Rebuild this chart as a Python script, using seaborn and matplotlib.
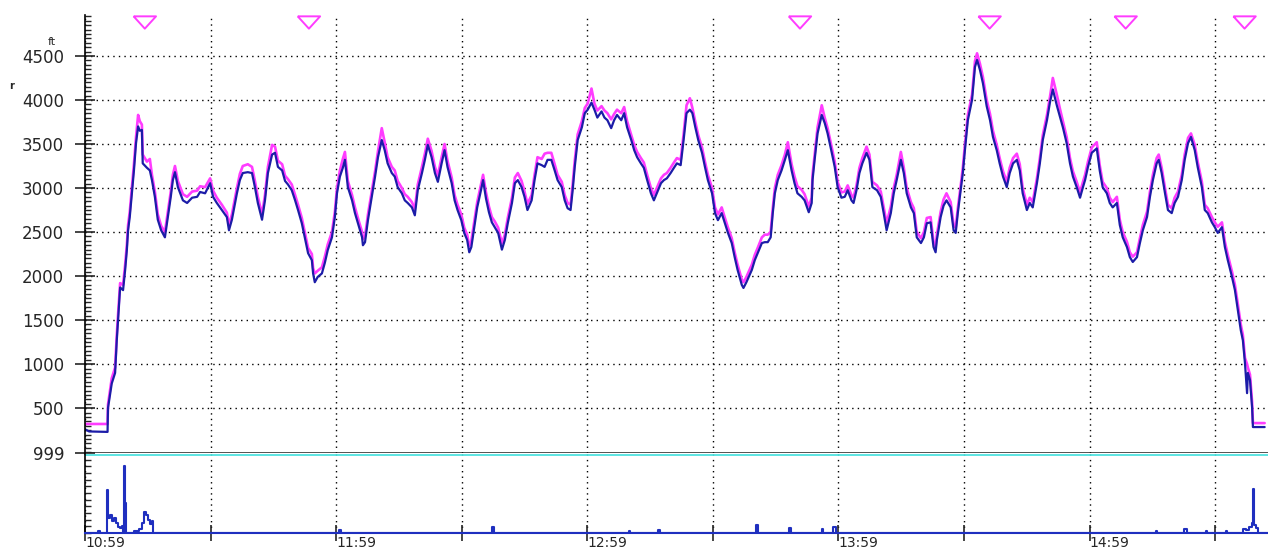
import matplotlib
matplotlib.use('Agg')
import matplotlib.pyplot as plt
from matplotlib.ticker import MultipleLocator
import pandas as pd
import seaborn as sns

# time in minutes after 10:59
minutes = [
    0.0, 1.0, 5.4, 5.5, 6.4, 7.2, 7.6, 7.9, 8.4, 9.1,
    9.6, 10.0, 10.3, 10.7, 11.2, 11.7, 12.2, 12.7, 13.1, 13.6,
    13.8, 14.8, 15.5, 16.0, 16.7, 17.4, 18.2, 19.1, 19.8, 20.5,
    21.0, 21.5, 22.2, 23.4, 24.4, 25.6, 26.8, 27.5, 28.7, 29.9,
    30.6, 31.5, 32.7, 33.9, 34.4, 35.1, 36.3, 37.0, 37.7, 38.9,
    39.9, 40.6, 41.3, 42.3, 43.0, 43.7, 44.7, 45.4, 46.1, 47.1,
    47.8, 48.5, 49.4, 50.2, 50.9, 51.8, 52.5, 53.3, 54.2, 54.5,
    54.9, 55.6, 56.6, 57.3, 58.0, 59.0, 59.7, 60.2, 60.9, 61.6,
    62.1, 62.8, 63.8, 64.5, 65.2, 66.2, 66.4, 66.9, 67.6, 68.5,
    69.3, 70.0, 70.9, 71.6, 72.3, 73.3, 74.0, 74.7, 75.7, 76.4,
    77.1, 78.1, 78.8, 79.5, 80.5, 81.2, 81.9, 82.8, 83.6, 84.3,
    85.2, 85.9, 86.6, 87.6, 88.3, 89.0, 89.9, 90.6, 91.3, 91.8,
    92.3, 93.0, 93.7, 94.6, 95.1, 95.8, 96.5, 97.2, 97.9, 98.7,
    99.6, 100.3, 101.0, 102.0, 102.7, 103.4, 104.3, 105.0, 105.7, 106.7,
    107.4, 108.1, 109.1, 109.8, 110.5, 111.4, 112.2, 112.9, 113.9, 114.6,
    115.3, 116.0, 116.5, 117.0, 117.7, 118.7, 119.4, 120.1, 121.0, 121.7,
    122.4, 123.4, 124.1, 124.8, 125.7, 126.4, 127.1, 128.1, 128.8, 129.5,
    130.5, 131.2, 131.9, 132.8, 133.5, 134.3, 135.2, 135.9, 136.6, 137.6,
    138.3, 139.0, 139.9, 140.7, 141.4, 142.3, 143.0, 143.7, 144.5, 145.1,
    145.8, 146.5, 147.4, 148.1, 148.8, 149.8, 150.5, 151.2, 152.1, 152.8,
    153.6, 154.5, 155.2, 155.9, 156.9, 157.3, 158.0, 159.3, 160.0, 160.7,
    161.7, 162.4, 163.1, 163.8, 164.3, 164.8, 165.5, 166.4, 167.2, 167.9,
    168.8, 169.5, 170.2, 171.2, 171.9, 172.9, 173.6, 173.8, 174.3, 175.0,
    176.0, 176.7, 177.4, 178.4, 179.1, 179.8, 180.7, 181.5, 182.2, 183.1,
    183.6, 184.3, 185.0, 185.7, 186.7, 187.4, 188.1, 189.2, 190.1, 190.8,
    191.5, 192.5, 193.2, 193.9, 194.9, 195.6, 196.3, 197.3, 198.0, 198.7,
    199.7, 200.4, 201.1, 202.0, 202.7, 203.2, 203.5, 204.4, 205.1, 205.8,
    206.8, 207.5, 208.0, 208.5, 209.2, 209.7, 210.2, 210.9, 211.9, 212.6,
    213.1, 213.8, 214.5, 215.4, 216.2, 216.9, 217.8, 218.5, 219.3, 220.2,
    220.9, 221.7, 222.6, 223.3, 224.0, 225.0, 225.7, 226.4, 227.4, 228.1,
    228.8, 229.8, 230.5, 231.2, 232.2, 232.9, 233.6, 234.5, 235.3, 236.0,
    236.9, 237.7, 238.4, 238.9, 239.6, 240.5, 241.7, 242.4, 243.1, 244.1,
    244.8, 245.5, 246.5, 247.2, 247.9, 248.9, 249.6, 250.3, 251.3, 252.0,
    252.7, 253.7, 254.4, 255.1, 256.0, 256.5, 257.2, 258.0, 258.7, 259.6,
    260.3, 261.1, 262.0, 262.7, 263.5, 264.2, 265.1, 265.8, 266.8, 267.5,
    268.2, 269.2, 269.9, 270.6, 271.6, 272.3, 273.0, 274.0, 274.7, 275.4,
    276.1, 276.6, 277.1, 277.6, 277.8, 278.3, 278.8, 279.0, 281.8,
]

# blue trace (ft)
baro_alt = [
    260, 235, 230, 500, 780, 900, 1270, 1500, 1870, 1840,
    2070, 2290, 2520, 2670, 2940, 3200, 3510, 3700, 3650, 3660,
    3280, 3230, 3200, 3090, 2900, 2640, 2520, 2440, 2670, 2900,
    3090, 3180, 3010, 2860, 2830, 2890, 2900, 2955, 2940, 3055,
    2900, 2830, 2750, 2670, 2520, 2640, 2940, 3090, 3170, 3180,
    3170, 3010, 2830, 2640, 2860, 3170, 3380, 3400, 3240, 3200,
    3080, 3040, 2975, 2860, 2750, 2600, 2440, 2260, 2180, 2030,
    1930, 1990, 2030, 2150, 2295, 2440, 2670, 2940, 3130, 3230,
    3320, 3010, 2860, 2715, 2600, 2440, 2350, 2385, 2635, 2900,
    3130, 3350, 3545, 3430, 3280, 3170, 3130, 3010, 2940, 2860,
    2830, 2780, 2690, 2975, 3170, 3320, 3490, 3350, 3170, 3070,
    3280, 3430, 3240, 3055, 2860, 2750, 2635, 2490, 2410, 2270,
    2330, 2555, 2780, 2975, 3090, 2880, 2725, 2610, 2555, 2490,
    2300, 2410, 2600, 2830, 3055, 3090, 3010, 2900, 2750, 2860,
    3090, 3280, 3260, 3240, 3320, 3320, 3200, 3090, 3010, 2860,
    2770, 2750, 2975, 3240, 3545, 3690, 3850, 3890, 3970, 3890,
    3800, 3870, 3800, 3770, 3680, 3770, 3830, 3770, 3850, 3690,
    3545, 3430, 3350, 3280, 3230, 3090, 2940, 2860, 2940, 3055,
    3090, 3110, 3170, 3230, 3280, 3260, 3545, 3850, 3890, 3850,
    3690, 3545, 3400, 3240, 3090, 2940, 2715, 2635, 2715, 2610,
    2490, 2375, 2215, 2070, 1900, 1865, 1930, 2070, 2180, 2260,
    2375, 2385, 2385, 2440, 2715, 2940, 3090, 3200, 3320, 3430,
    3200, 3055, 2940, 2900, 2860, 2725, 2830, 3090, 3320, 3620,
    3830, 3740, 3620, 3400, 3240, 3010, 2890, 2900, 2975, 2860,
    2830, 2975, 3170, 3280, 3400, 3320, 3010, 2975, 2900, 2715,
    2520, 2715, 2940, 3090, 3320, 3170, 2940, 2780, 2715, 2440,
    2375, 2440, 2600, 2610, 2330, 2270, 2410, 2670, 2800, 2860,
    2780, 2520, 2490, 2715, 2975, 3170, 3430, 3770, 4000, 4375,
    4455, 4340, 4190, 3930, 3770, 3580, 3430, 3280, 3130, 3010,
    3170, 3280, 3320, 3200, 2940, 2750, 2830, 2780, 3055, 3280,
    3545, 3770, 3970, 4120, 3930, 3810, 3690, 3510, 3280, 3130,
    3010, 2890, 3010, 3090, 3240, 3400, 3450, 3200, 3010, 2940,
    2830, 2780, 2830, 2580, 2440, 2330, 2215, 2160, 2215, 2375,
    2520, 2670, 2900, 3090, 3280, 3320, 3170, 2940, 2750, 2715,
    2830, 2900, 3090, 3320, 3510, 3580, 3430, 3240, 3010, 2750,
    2715, 2610, 2555, 2490, 2555, 2330, 2180, 1990, 1840, 1615,
    1385, 1270, 1010, 670, 900, 820, 510, 285, 285,
]

# magenta trace (ft)
gps_alt = [
    320, 320, 320, 540, 840, 960, 1330, 1560, 1920, 1900,
    2130, 2350, 2580, 2730, 3000, 3270, 3580, 3830, 3760, 3720,
    3380, 3300, 3330, 3150, 2960, 2700, 2570, 2500, 2730, 2960,
    3150, 3250, 3080, 2930, 2900, 2960, 2970, 3020, 3010, 3110,
    2970, 2890, 2810, 2720, 2580, 2700, 3000, 3160, 3250, 3270,
    3240, 3080, 2900, 2700, 2920, 3240, 3490, 3470, 3310, 3270,
    3140, 3100, 3040, 2920, 2810, 2660, 2500, 2320, 2250, 2090,
    2030, 2060, 2100, 2220, 2360, 2500, 2730, 3000, 3200, 3330,
    3410, 3080, 2920, 2780, 2660, 2500, 2420, 2450, 2700, 2960,
    3190, 3420, 3680, 3520, 3350, 3240, 3200, 3080, 3000, 2930,
    2900, 2840, 2760, 3040, 3240, 3390, 3560, 3420, 3240, 3140,
    3350, 3500, 3310, 3120, 2920, 2810, 2700, 2550, 2470, 2340,
    2400, 2620, 2840, 3040, 3150, 2950, 2790, 2670, 2620, 2550,
    2370, 2470, 2660, 2890, 3120, 3170, 3080, 2960, 2820, 2920,
    3150, 3350, 3330, 3390, 3400, 3400, 3270, 3150, 3070, 2920,
    2830, 2810, 3040, 3310, 3610, 3760, 3910, 3960, 4130, 3960,
    3880, 3930, 3880, 3850, 3780, 3840, 3890, 3850, 3920, 3760,
    3600, 3490, 3410, 3340, 3290, 3150, 3000, 2920, 3000, 3110,
    3150, 3170, 3230, 3290, 3340, 3320, 3610, 3940, 4020, 3910,
    3750, 3600, 3460, 3300, 3150, 3000, 2780, 2700, 2780, 2670,
    2550, 2430, 2270, 2130, 1960, 1930, 1990, 2130, 2240, 2320,
    2440, 2470, 2470, 2500, 2770, 3000, 3150, 3260, 3380, 3520,
    3270, 3130, 3020, 2980, 2930, 2790, 2890, 3150, 3380, 3690,
    3940, 3800, 3680, 3460, 3300, 3070, 2950, 2960, 3030, 2920,
    2890, 3030, 3230, 3340, 3470, 3380, 3070, 3030, 2960, 2780,
    2600, 2790, 3000, 3150, 3410, 3230, 3000, 2840, 2770, 2500,
    2430, 2500, 2660, 2670, 2390, 2330, 2470, 2730, 2870, 2940,
    2840, 2580, 2550, 2770, 3030, 3230, 3490, 3830, 4060, 4440,
    4530, 4410, 4260, 4000, 3840, 3650, 3490, 3340, 3190, 3070,
    3230, 3340, 3390, 3270, 3000, 2810, 2890, 2840, 3110, 3340,
    3600, 3830, 4030, 4250, 4050, 3900, 3760, 3580, 3340, 3190,
    3070, 2950, 3070, 3150, 3300, 3460, 3520, 3260, 3070, 3000,
    2890, 2840, 2900, 2640, 2500, 2390, 2270, 2220, 2270, 2430,
    2580, 2730, 2960, 3150, 3340, 3380, 3230, 3000, 2810, 2770,
    2890, 2960, 3150, 3380, 3570, 3620, 3490, 3300, 3070, 2810,
    2770, 2670, 2610, 2560, 2610, 2390, 2240, 2050, 1900, 1680,
    1450, 1330, 1070, 1000, 960, 880, 570, 330, 330,
]

# lower panel trace (0..999)
enl_min = [0, 3.2, 3.6, 5.0, 5.2, 5.4, 5.9, 6.4, 6.9, 7.4, 7.9, 8.4, 8.8,
           9.1, 9.3, 9.5, 9.7, 11.8, 12.9, 13.6, 14.1, 14.6, 15.0, 15.5,
           16.0, 16.3, 60.8, 61.1, 97.2, 97.6, 130.0, 130.3, 137.0, 137.3,
           160.3, 160.8, 168.2, 168.6, 176.0, 176.3, 178.8, 179.3, 255.8,
           256.1, 262.5, 263.3, 267.7, 268.0, 272.5, 272.8, 276.6, 277.4,
           278.0, 278.8, 279.1, 279.3, 279.8, 280.2, 282.6]
enl_val = [0, 30, 0, 0, 540, 190, 230, 150, 190, 120, 80, 60, 90,
           0, 840, 370, 0, 20, 50, 120, 260, 230, 160, 110,
           150, 0, 40, 0, 80, 0, 30, 0, 40, 0,
           100, 0, 60, 0, 50, 0, 70, 0, 20,
           0, 50, 0, 25, 0, 25, 0, 50, 40,
           80, 120, 550, 100, 60, 0, 0]

marker_min = [14.3, 53.5, 170.8, 216.1, 248.6, 277.0]
time_ticks = [0, 30, 60, 90, 120, 150, 180, 210, 240, 270]
time_labels = ['10:59', '', '11:59', '', '12:59', '', '13:59', '', '14:59', '']
alt_ticks = [500, 1000, 1500, 2000, 2500, 3000, 3500, 4000, 4500]

sns.set_style('white')
plt.rcParams['font.family'] = ['DejaVu Sans']

magenta = '#ff3cff'
navy = '#1c1ca8'
dots = (0, (1, 3))

fig = plt.figure(figsize=(12.68, 5.52), dpi=100)
ax1 = fig.add_axes([0.067, 0.1793, 0.933, 0.7935])
ax2 = fig.add_axes([0.067, 0.0344, 0.933, 0.1449])

df = pd.DataFrame({'t': minutes, 'gps': gps_alt, 'baro': baro_alt})
sns.lineplot(data=df, x='t', y='gps', ax=ax1, color=magenta, lw=1.9,
             sort=False, estimator=None)
sns.lineplot(data=df, x='t', y='baro', ax=ax1, color=navy, lw=1.6,
             sort=False, estimator=None)

tri = [(-1, 0.55), (1, 0.55), (0, -0.55), (-1, 0.55)]
sns.scatterplot(x=marker_min, y=[4880] * len(marker_min), ax=ax1,
                marker=tri, s=260, facecolor='none', edgecolor=magenta,
                linewidth=1.4)

ax1.set_xlim(0, 282.6)
ax1.set_ylim(-10, 4965)
ax1.set_xticks(time_ticks)
ax1.set_yticks(alt_ticks)
ax1.yaxis.set_minor_locator(MultipleLocator(50))
ax1.tick_params(axis='x', length=0, labelbottom=False)
ax1.tick_params(axis='y', which='major', direction='inout', length=14,
                width=1.2, labelsize=12, pad=8, left=True)
ax1.tick_params(axis='y', which='minor', direction='in', length=4,
                width=1.0, left=True)
ax1.grid(True, color='black', linestyle=dots, lw=1.0)
ax1.set_xlabel('')
ax1.set_ylabel('')
for s in ['top', 'right']:
    ax1.spines[s].set_visible(False)
ax1.spines['left'].set_color('black')
ax1.spines['left'].set_linewidth(1.2)
ax1.spines['bottom'].set_color('#202020')
ax1.spines['bottom'].set_linewidth(1.8)

# lower panel
sns.lineplot(x=enl_min, y=enl_val, ax=ax2, color='#1f2fbf', lw=1.5,
             drawstyle='steps-post', sort=False, estimator=None)
ax2.axhline(975, color='#4fe3e0', lw=1.3)
ax2.set_xlim(0, 282.6)
ax2.set_ylim(0, 1000)
ax2.set_yticks([999])
ax2.set_yticklabels(['999'])
ax2.yaxis.set_minor_locator(MultipleLocator(83.25))
ax2.set_xticks(time_ticks)
ax2.set_xticklabels(time_labels, ha='left')
ax2.tick_params(axis='y', which='major', direction='inout', length=14,
                width=1.2, labelsize=12, pad=8, left=True)
ax2.tick_params(axis='y', which='minor', direction='in', length=4,
                width=1.0, left=True)
ax2.tick_params(axis='x', direction='inout', length=12, width=1.2,
                labelsize=10, pad=-3.5, bottom=True)
ax2.grid(True, axis='x', color='black', linestyle=dots, lw=1.0)
ax2.set_xlabel('')
ax2.set_ylabel('')
for s in ['top', 'right']:
    ax2.spines[s].set_visible(False)
ax2.spines['left'].set_color('black')
ax2.spines['left'].set_linewidth(1.2)
ax2.spines['bottom'].set_color('#1f2fbf')
ax2.spines['bottom'].set_linewidth(1.5)

fig.text(52 / 1268, 1 - 42 / 552, 'ft', fontsize=8, ha='center', va='center')
fig.text(12 / 1268, 1 - 86 / 552, 'r', fontsize=7, fontweight='bold',
         ha='center', va='center')

fig.savefig('out.png', dpi=100)
plt.close(fig)
